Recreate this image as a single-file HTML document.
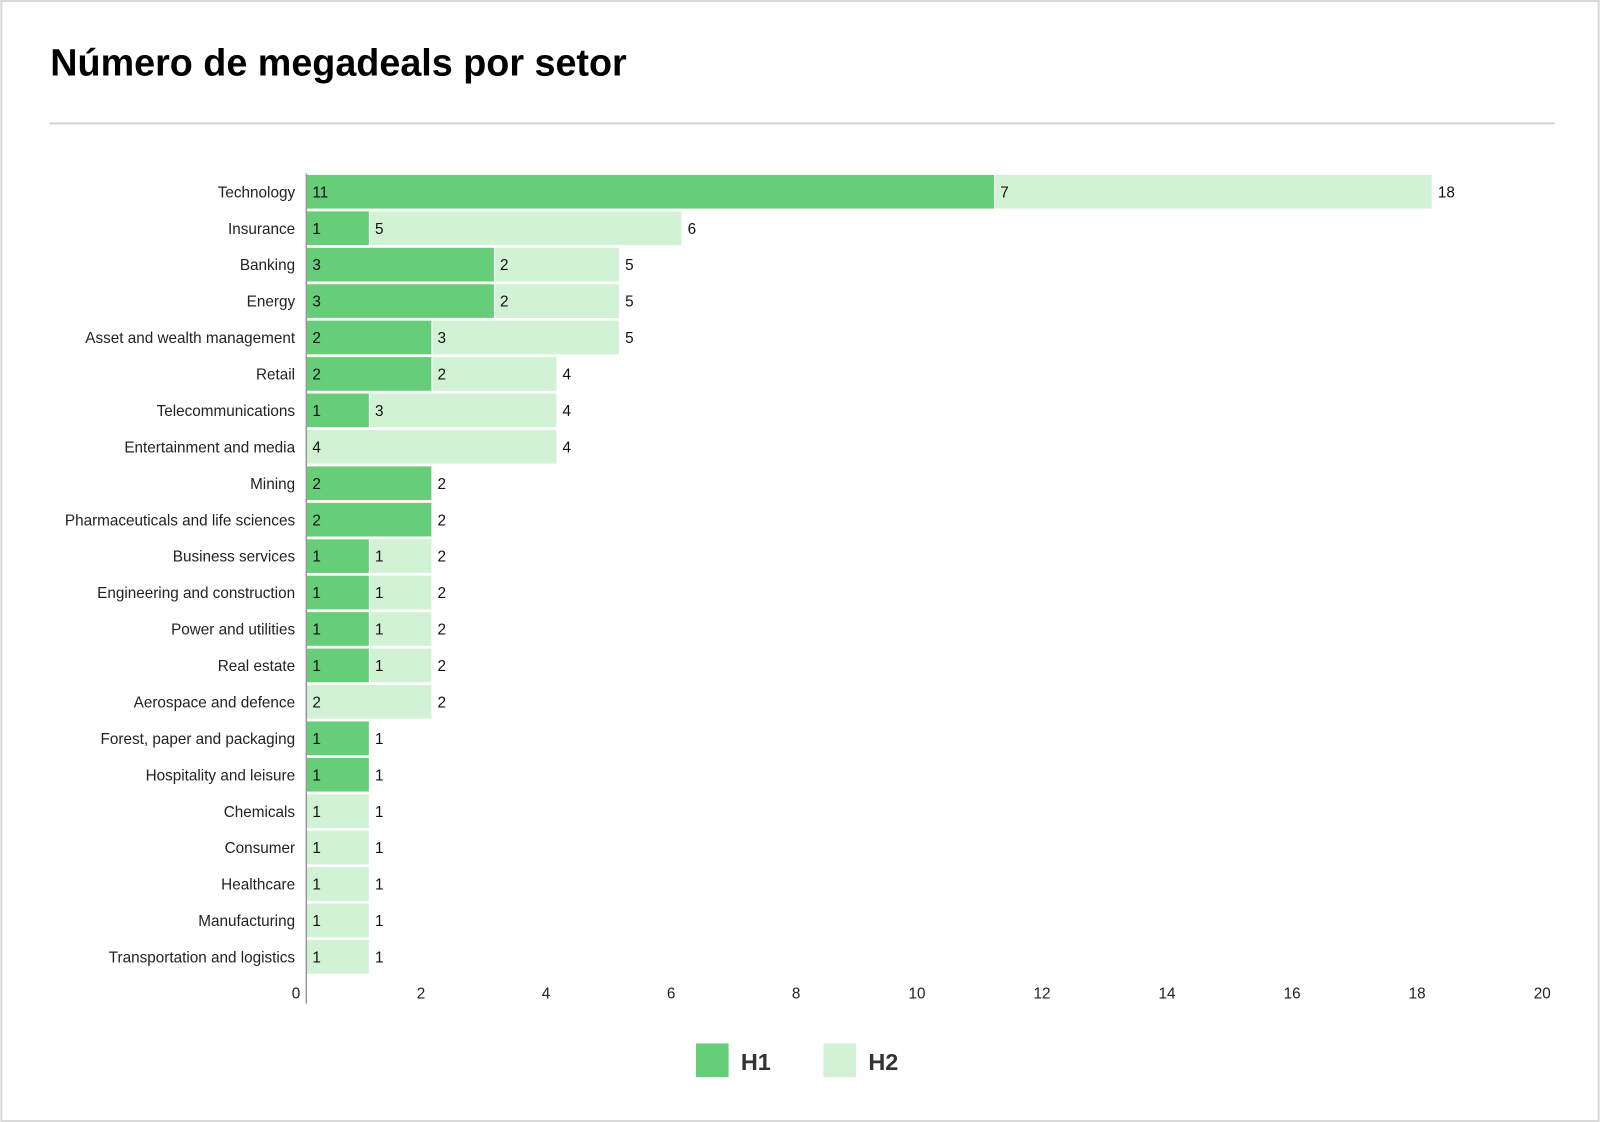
<!DOCTYPE html>
<html><head><meta charset="utf-8"><style>
html,body{margin:0;padding:0;background:#fff}
svg{display:block;font-family:"Liberation Sans",sans-serif}
</style></head><body>
<svg id="chart" width="1600" height="1122" viewBox="0 0 1568 1100">
<rect x="1" y="1" width="1566" height="1098" fill="#fff" stroke="#d9d9d9" stroke-width="2"/>
<text x="49" y="74" font-size="37" font-weight="bold" fill="#000">Número de megadeals por setor</text>
<line x1="48" y1="121" x2="1524" y2="121" stroke="#d6d6d6" stroke-width="2"/>
<g id="bars"></g>
<g id="xaxis"></g>
<line x1="300" y1="170" x2="300" y2="984" stroke="#999" stroke-width="1.5"/>
<g>
<rect x="682" y="1023" width="32" height="33" fill="#66cd78"/>
<text x="726" y="1049" font-size="23" font-weight="bold" fill="#333">H1</text>
<rect x="807" y="1023" width="32" height="33" fill="#d2f2d5"/>
<text x="851" y="1049" font-size="23" font-weight="bold" fill="#333">H2</text>
</g>
</svg>
<script>
const categories=["Technology","Insurance","Banking","Energy","Asset and wealth management","Retail","Telecommunications","Entertainment and media","Mining","Pharmaceuticals and life sciences","Business services","Engineering and construction","Power and utilities","Real estate","Aerospace and defence","Forest, paper and packaging","Hospitality and leisure","Chemicals","Consumer","Healthcare","Manufacturing","Transportation and logistics"];
const h1Values=[11,1,3,3,2,2,1,0,2,2,1,1,1,1,0,1,1,0,0,0,0,0];
const h2Values=[7,5,2,2,3,2,3,4,0,0,1,1,1,1,2,0,0,1,1,1,1,1];
const xTicks=[0,2,4,6,8,10,12,14,16,18,20];
const NS="http://www.w3.org/2000/svg";
const x0=300,unit=61.3,y0=188,step=35.72,bh=33;
const xs=v=>x0+v*unit;
const ys=i=>y0+i*step;
function mk(tag,attrs,parent,txt){const e=document.createElementNS(NS,tag);for(const k in attrs)e.setAttribute(k,attrs[k]);if(txt!==undefined)e.textContent=txt;parent.appendChild(e);return e;}
const bars=document.getElementById('bars');
categories.forEach((c,i)=>{
  const cy=ys(i),a=h1Values[i],b=h2Values[i];
  const lab=mk('text',{x:289,y:cy+5.5,'font-size':15,'text-anchor':'end',fill:'#222'},bars,c);
  
  
  if(a>0){
    const r=mk('rect',{x:xs(0),y:cy-bh/2,width:xs(a)-xs(0),height:bh,fill:'#66cd78'},bars);
    
    
    const t=mk('text',{x:xs(0)+6,y:cy+5.5,'font-size':15,fill:'#111'},bars,a);
    
    
  }
  if(b>0){
    const r=mk('rect',{x:xs(a)+(a>0?1:0),y:cy-bh/2,width:xs(a+b)-xs(a)-(a>0?1:0),height:bh,fill:'#d2f2d5'},bars);
    
    
    const t=mk('text',{x:xs(a)+6,y:cy+5.5,'font-size':15,fill:'#111'},bars,b);
    
    
  }
  const tot=mk('text',{x:xs(a+b)+6,y:cy+5.5,'font-size':15,fill:'#111'},bars,a+b);
  
  
});
const xa=document.getElementById('xaxis');
xTicks.forEach(v=>{
  const t=mk('text',{x:xs(v)-6,y:979,'font-size':15,'text-anchor':'end',fill:'#222'},xa,v);
  
  
});
</script>
</body></html>
